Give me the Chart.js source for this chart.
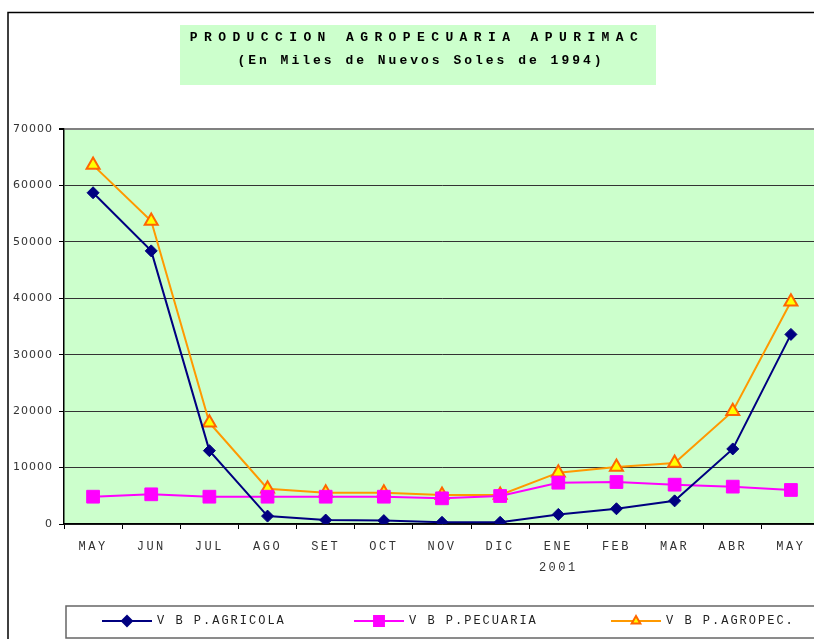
<!DOCTYPE html>
<html>
<head>
<meta charset="utf-8">
<script src="https://cdn.jsdelivr.net/npm/chart.js@4"></script>
<style>
  html, body { margin: 0; padding: 0; background: #fff; overflow: hidden; }
  canvas { display: block; }
</style>
</head>
<body>
<canvas id="chart" width="830" height="639"></canvas>
<script>
// months May 2000 .. May 2001
const months = ["MAY", "JUN", "JUL", "AGO", "SET", "OCT", "NOV", "DIC", "ENE", "FEB", "MAR", "ABR", "MAY"];
const agricola = [58700, 48400, 13000, 1400, 700, 600, 300, 300, 1700, 2700, 4100, 13300, 33600];
const pecuaria = [4840, 5260, 4840, 4840, 4840, 4840, 4550, 4960, 7320, 7440, 6970, 6620, 6030];
const agropec = [63600, 53700, 17950, 6260, 5550, 5550, 5140, 5140, 9100, 10100, 10800, 20000, 39400];
const seriesNames = ["V B P.AGRICOLA", "V B P.PECUARIA", "V B P.AGROPEC."];
const titleLines = ["PRODUCCION AGROPECUARIA APURIMAC", "(En Miles de Nuevos Soles de 1994)"];

const frame = {
  id: "frame",
  beforeDraw(chart) {
    const { ctx, chartArea: a } = chart;
    ctx.save();
    ctx.fillStyle = "#ccffcc";
    ctx.fillRect(a.left, a.top, a.right - a.left, a.bottom - a.top);
    // outer border
    ctx.strokeStyle = "#000";
    ctx.lineWidth = 1.5;
    ctx.beginPath();
    ctx.moveTo(8, 700);
    ctx.lineTo(8, 12.5);
    ctx.lineTo(900, 12.5);
    ctx.stroke();
    // title box
    ctx.fillStyle = "#ccffcc";
    ctx.fillRect(180, 25, 476, 60);
    ctx.fillStyle = "#000";
    ctx.textAlign = "center";
    ctx.textBaseline = "middle";
    ctx.font = "bold 13px 'Liberation Mono'";
    ctx.letterSpacing = "6.4px";
    ctx.fillText(titleLines[0], 417, 38);
    ctx.letterSpacing = "3px";
    ctx.fillText(titleLines[1], 421, 61);
    ctx.restore();

    // letter spacing for the axis labels
    const spaced = (scale, sp) => {
      if (scale._spaced) return;
      const orig = scale.drawLabels;
      scale.drawLabels = function (area) {
        this.ctx.save();
        this.ctx.letterSpacing = sp;
        orig.call(this, area);
        this.ctx.restore();
      };
      scale._spaced = true;
    };
    spaced(chart.scales.x, "2.5px");
    spaced(chart.scales.y, "1px");
  },
  afterDraw(chart) {
    const { ctx } = chart;
    ctx.save();
    ctx.strokeStyle = "#666";
    ctx.lineWidth = 1.5;
    ctx.strokeRect(66, 606, 800, 32);
    const xs = [102, 354, 611];
    const y = 621;
    chart.data.datasets.forEach((ds, i) => {
      const x = xs[i];
      ctx.strokeStyle = ds.borderColor;
      ctx.lineWidth = 2;
      ctx.beginPath();
      ctx.moveTo(x, y);
      ctx.lineTo(x + 50, y);
      ctx.stroke();
      ctx.fillStyle = ds.pointBackgroundColor;
      ctx.strokeStyle = ds.pointBorderColor;
      Chart.helpers.drawPoint(ctx, {
        pointStyle: ds.pointStyle,
        radius: ds.legendRadius,
        borderWidth: ds.pointBorderWidth,
        rotation: 0
      }, x + 25, y);
      ctx.fillStyle = "#222";
      ctx.font = "12px 'Liberation Mono'";
      ctx.letterSpacing = "2px";
      ctx.textAlign = "left";
      ctx.textBaseline = "middle";
      ctx.fillText(ds.label, x + 55, y);
    });
    ctx.restore();
  }
};

new Chart(document.getElementById("chart"), {
  type: "line",
  data: {
    labels: months,
    datasets: [
      {
        label: seriesNames[0],
        data: agricola,
        borderColor: "#000080",
        borderWidth: 2,
        pointStyle: "rectRot",
        pointRadius: 6,
        legendRadius: 5,
        pointBackgroundColor: "#000080",
        pointBorderColor: "#000080",
        pointBorderWidth: 1,
        tension: 0
      },
      {
        label: seriesNames[1],
        data: pecuaria,
        borderColor: "#ff00ff",
        borderWidth: 2,
        pointStyle: "rect",
        pointRadius: 9,
        legendRadius: 7,
        pointBackgroundColor: "#ff00ff",
        pointBorderColor: "#ff00ff",
        pointBorderWidth: 1,
        tension: 0
      },
      {
        label: seriesNames[2],
        data: agropec,
        borderColor: "#ff9900",
        borderWidth: 2,
        pointStyle: "triangle",
        pointRadius: 7.5,
        legendRadius: 5,
        pointBackgroundColor: "#ffff00",
        pointBorderColor: "#ff6600",
        pointBorderWidth: 2,
        tension: 0
      }
    ]
  },
  options: {
    responsive: false,
    animation: false,
    devicePixelRatio: 1,
    layout: { padding: { top: 129, right: 8, bottom: 55, left: 0 } },
    plugins: {
      legend: { display: false },
      title: { display: false },
      tooltip: { enabled: false }
    },
    scales: {
      x: {
        offset: true,
        afterFit: (s) => { s.height = 60; },
        grid: {
          offset: true,
          drawOnChartArea: false,
          drawTicks: true,
          tickLength: 5,
          color: "#000"
        },
        border: { color: "#000", width: 1.5 },
        ticks: {
          color: "#333",
          font: { family: "'Liberation Mono'", size: 12, lineHeight: 1.75 },
          padding: 7,
          maxRotation: 0,
          autoSkip: false,
          callback: function (v, i) {
            const m = months[i];
            return i === 8 ? [m, "2001"] : m;
          }
        }
      },
      y: {
        min: 0,
        max: 70000,
        afterFit: (s) => { s.width = 64; },
        grid: {
          color: (c) => c.tick && c.tick.value === 70000 ? "#808080" : "#333",
          lineWidth: (c) => c.tick && c.tick.value === 70000 ? 2 : 1,
          tickLength: 5,
          tickColor: "#000"
        },
        border: { color: "#000", width: 1.5 },
        ticks: {
          stepSize: 10000,
          color: "#333",
          font: { family: "'DejaVu Sans'", size: 11 },
          padding: 6,
          callback: (v) => String(v)
        }
      }
    }
  },
  plugins: [frame]
});
</script>
</body>
</html>
